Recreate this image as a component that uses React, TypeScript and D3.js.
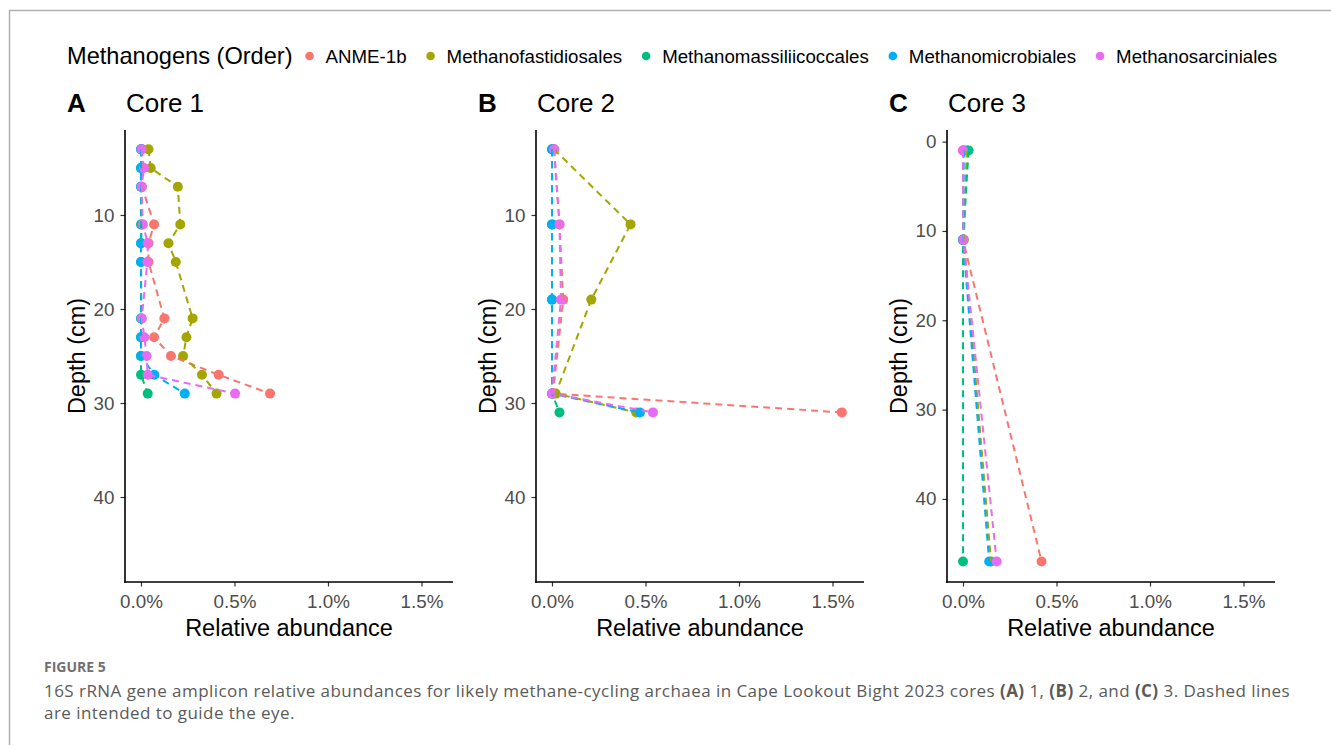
import React, { useRef, useEffect } from 'react';
import * as d3 from 'd3';

// legend / series
const seriesNames = [
    'ANME-1b',
    'Methanofastidiosales',
    'Methanomassiliicoccales',
    'Methanomicrobiales',
    'Methanosarciniales',
];
const seriesColors = ['#F8766D', '#A3A500', '#00BF7D', '#00B0F6', '#E76BF3'];

// Core 1 (relative abundance in %)
const core1Depths = [3, 5, 7, 11, 13, 15, 21, 23, 25, 27, 29];
const core1Anme = [0.005, 0.005, 0.005, 0.07, 0.04, 0.04, 0.125, 0.07, 0.16, 0.415, 0.69];
const core1Fast = [0.04, 0.052, 0.197, 0.21, 0.147, 0.186, 0.276, 0.243, 0.225, 0.326, 0.404];
const core1Mass = [0, 0, 0, 0, 0, 0, 0, 0, 0, 0, 0.036];
const core1Micro = [0, 0, 0, 0.005, 0, 0, 0.002, 0, 0, 0.071, 0.234];
const core1Sarc = [0.003, 0.016, 0.003, 0.01, 0.036, 0.034, 0.004, 0.018, 0.03, 0.036, 0.503];

// Core 2
const core2Depths = [3, 11, 19, 29, 31];
const core2Anme = [0.01, 0.04, 0.06, 0.005, 1.55];
const core2Fast = [0.01, 0.42, 0.21, 0.02, 0.45];
const core2Mass = [0, 0, 0, 0, 0.04];
const core2Micro = [0, 0, 0, 0, 0.47];
const core2Sarc = [0.012, 0.04, 0.048, 0, 0.54];

// Core 3
const core3Depths = [1, 11, 47];
const core3Anme = [0, 0, 0.42];
const core3Fast = [0.02, 0.005, 0.15];
const core3Mass = [0.03, 0, 0];
const core3Micro = [0.005, 0, 0.14];
const core3Sarc = [0, 0.002, 0.18];

const xTicks = [0, 0.5, 1, 1.5];
const depthTicksAB = [10, 20, 30, 40];
const depthTicksC = [0, 10, 20, 30, 40];

const captionLines = [
    [
        { t: '16S rRNA gene amplicon relative abundances for likely methane-cycling archaea in Cape Lookout Bight 2023 cores ', b: false },
        { t: '(A)', b: true },
        { t: ' 1, ', b: false },
        { t: '(B)', b: true },
        { t: ' 2, and ', b: false },
        { t: '(C)', b: true },
        { t: ' 3. Dashed lines', b: false },
    ],
    [{ t: 'are intended to guide the eye.', b: false }],
];

interface Panel {
    tag: string;
    title: string;
    depths: number[];
    values: number[][];
    yDomain: [number, number];
    yTicks: number[];
}

const panels: Panel[] = [
    {
        tag: 'A',
        title: 'Core 1',
        depths: core1Depths,
        values: [core1Anme, core1Fast, core1Mass, core1Micro, core1Sarc],
        yDomain: [0.96, 49.04],
        yTicks: depthTicksAB,
    },
    {
        tag: 'B',
        title: 'Core 2',
        depths: core2Depths,
        values: [core2Anme, core2Fast, core2Mass, core2Micro, core2Sarc],
        yDomain: [0.96, 49.04],
        yTicks: depthTicksAB,
    },
    {
        tag: 'C',
        title: 'Core 3',
        depths: core3Depths,
        values: [core3Anme, core3Fast, core3Mass, core3Micro, core3Sarc],
        yDomain: [-1.3, 49.3],
        yTicks: depthTicksC,
    },
];

const FONT = '"Liberation Sans", Arial, sans-serif';
const W = 1331;
const H = 745;

const App: React.FC = () => {
    const svgRef = useRef<SVGSVGElement | null>(null);

    useEffect(() => {
        if (!svgRef.current) return;
        const svg = d3.select(svgRef.current);
        svg.selectAll('*').remove();

        // page frame
        svg.append('line')
            .attr('x1', 9.5).attr('x2', W).attr('y1', 10.5).attr('y2', 10.5)
            .attr('stroke', '#b0b0b0').attr('stroke-width', 1.5);
        svg.append('line')
            .attr('x1', 9.5).attr('x2', 9.5).attr('y1', 10).attr('y2', H)
            .attr('stroke', '#b0b0b0').attr('stroke-width', 1.5);

        // legend
        const legend = svg.append('g').attr('font-family', FONT);
        const legTitle = legend.append('text')
            .attr('x', 67).attr('y', 64)
            .attr('font-size', 23.6).attr('fill', '#000')
            .text('Methanogens (Order)');
        let cx = 67 + (legTitle.node() as SVGTextElement).getComputedTextLength() + 17;
        seriesNames.forEach((name, i) => {
            legend.append('circle')
                .attr('cx', cx).attr('cy', 56).attr('r', 4.3)
                .attr('fill', seriesColors[i]);
            const lbl = legend.append('text')
                .attr('x', cx + 16).attr('y', 62.5)
                .attr('font-size', 18.7).attr('fill', '#000')
                .text(name);
            cx += 16 + (lbl.node() as SVGTextElement).getComputedTextLength() + 24;
        });

        const panelLeft = [125, 536, 947];
        const panelWidth = 328;
        const top = 130;
        const bottom = 582;

        panels.forEach((p, pi) => {
            const left = panelLeft[pi];
            const x = d3.scaleLinear()
                .domain([-16 / 187, (panelWidth - 16) / 187])
                .range([left, left + panelWidth]);
            const y = d3.scaleLinear().domain(p.yDomain).range([top, bottom]);

            const g = svg.append('g').attr('font-family', FONT);

            // tag + title
            g.append('text')
                .attr('x', left - 58).attr('y', 112)
                .attr('font-size', 26).attr('font-weight', 'bold')
                .text(p.tag);
            g.append('text')
                .attr('x', left + 1).attr('y', 112)
                .attr('font-size', 26)
                .text(p.title);

            // data: points then dashed lines
            p.values.forEach((vals, si) => {
                const pts = p.depths.map((d, k) => ({ depth: d, value: vals[k] }));
                g.append('g')
                    .selectAll('circle')
                    .data(pts)
                    .enter()
                    .append('circle')
                    .attr('cx', (d) => x(d.value))
                    .attr('cy', (d) => y(d.depth))
                    .attr('r', 5)
                    .attr('fill', seriesColors[si]);
            });
            p.values.forEach((vals, si) => {
                const pts = p.depths.map((d, k) => ({ depth: d, value: vals[k] }));
                const line = d3.line<{ depth: number; value: number }>()
                    .x((d) => x(d.value))
                    .y((d) => y(d.depth));
                g.append('path')
                    .datum(pts)
                    .attr('d', line)
                    .attr('fill', 'none')
                    .attr('stroke', seriesColors[si])
                    .attr('stroke-width', 2)
                    .attr('stroke-dasharray', '7 5');
            });

            // axes
            const yAxis = g.append('g')
                .attr('transform', `translate(${left},0)`)
                .call(
                    d3.axisLeft(y)
                        .tickValues(p.yTicks)
                        .tickSizeInner(4.5)
                        .tickSizeOuter(0)
                        .tickPadding(6)
                        .tickFormat((d) => String(d)),
                );
            const xAxis = g.append('g')
                .attr('transform', `translate(0,${bottom})`)
                .call(
                    d3.axisBottom(x)
                        .tickValues(xTicks)
                        .tickSizeInner(4.5)
                        .tickSizeOuter(0)
                        .tickPadding(8)
                        .tickFormat((d) => (d as number).toFixed(1) + '%'),
                );
            [yAxis, xAxis].forEach((ax) => {
                ax.select('.domain').remove();
                ax.attr('font-family', FONT).attr('font-size', 18.8);
                ax.selectAll('.tick line').attr('stroke', '#333').attr('stroke-width', 1.2);
                ax.selectAll('.tick text').attr('fill', '#4d4d4d');
            });
            g.append('line')
                .attr('x1', left).attr('x2', left)
                .attr('y1', top).attr('y2', bottom + 0.8)
                .attr('stroke', '#000').attr('stroke-width', 1.6);
            g.append('line')
                .attr('x1', left - 0.8).attr('x2', left + panelWidth)
                .attr('y1', bottom).attr('y2', bottom)
                .attr('stroke', '#000').attr('stroke-width', 1.6);

            // axis titles
            g.append('text')
                .attr('x', left + panelWidth / 2).attr('y', 635.5)
                .attr('text-anchor', 'middle')
                .attr('font-size', 23.5)
                .text('Relative abundance');
            g.append('text')
                .attr('transform', `translate(${left - 40},${(top + bottom) / 2}) rotate(-90)`)
                .attr('text-anchor', 'middle')
                .attr('font-size', 23.5)
                .text('Depth (cm)');
        });

        // caption
        const cap = svg.append('g').attr('font-family', '"Open Sans", sans-serif');
        cap.append('text')
            .attr('x', 44).attr('y', 672)
            .attr('font-size', 14).attr('font-weight', 'bold')
            .attr('fill', '#707070')
            .text('FIGURE 5');
        captionLines.forEach((ln, li) => {
            const t = cap.append('text')
                .attr('x', 44).attr('y', 697 + li * 21.5)
                .attr('font-size', 17)
                .attr('letter-spacing', 0.45)
                .attr('fill', '#5a5a5a');
            ln.forEach((seg) => {
                t.append('tspan')
                    .attr('font-weight', seg.b ? 'bold' : 'normal')
                    .text(seg.t);
            });
        });
    }, []);

    return (
        <svg
            ref={svgRef}
            width={W}
            height={H}
            style={{ position: 'absolute', left: 0, top: 0, background: '#fff' }}
        />
    );
};

export default App;
